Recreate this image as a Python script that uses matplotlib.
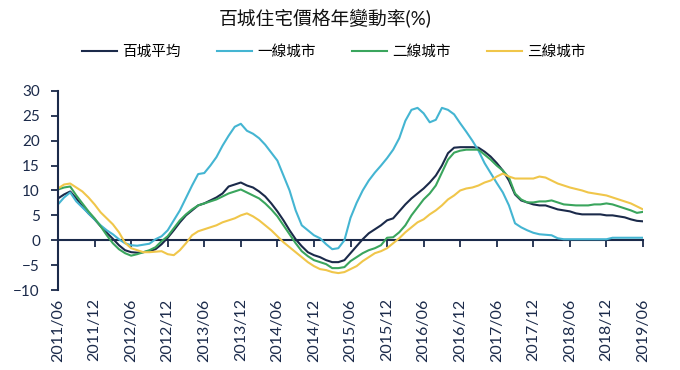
import numpy as np
import matplotlib
matplotlib.use("Agg")
import matplotlib.pyplot as plt

plt.rcParams['font.family'] = ['Lato', 'Noto Sans CJK TC', 'DejaVu Sans']

# 月度資料 2011/06 - 2019/06
avg = [8.4, 9.2, 9.8, 8.4, 6.8, 5.4, 4.2, 2.8, 1.5, 0.3,
       -1.0, -2.0, -2.4, -2.5, -2.4, -2.2, -1.8, -0.8, 0.5, 2.0,
       3.6, 5.0, 6.0, 7.0, 7.4, 8.0, 8.6, 9.4, 10.8, 11.2,
       11.6, 11.0, 10.6, 9.8, 8.8, 7.4, 5.8, 4.0, 2.0, 0.2,
       -1.2, -2.4, -3.0, -3.4, -4.0, -4.4, -4.4, -4.0, -2.6, -1.2,
       0.2, 1.4, 2.2, 3.0, 4.0, 4.4, 5.8, 7.2, 8.4, 9.4,
       10.4, 11.6, 13.0, 15.0, 17.5, 18.6, 18.7, 18.7, 18.7, 18.6,
       17.8, 16.8, 15.5, 14.0, 12.0, 9.2, 8.0, 7.6, 7.2, 7.0,
       7.0, 6.6, 6.2, 6.0, 5.8, 5.4, 5.2, 5.2, 5.2, 5.2,
       5.0, 5.0, 4.8, 4.6, 4.2, 3.9, 3.8]
tier1 = [7.2, 8.6, 9.6, 7.8, 6.6, 5.4, 4.2, 3.0, 2.0, 1.2,
         0.2, -0.6, -1.0, -1.1, -0.9, -0.7, 0.2, 0.8, 2.0, 4.0,
         6.0, 8.5, 11.0, 13.3, 13.5, 15.0, 16.7, 19.0, 21.0, 22.8,
         23.4, 22.0, 21.4, 20.5, 19.2, 17.6, 16.0, 13.0, 10.0, 6.0,
         3.0, 2.0, 1.0, 0.4, -0.8, -1.8, -1.6, 0.0, 4.5, 7.5,
         10.0, 12.0, 13.6, 15.0, 16.5, 18.2, 20.5, 24.0, 26.2, 26.6,
         25.5, 23.7, 24.2, 26.6, 26.2, 25.3, 23.5, 21.8, 20.0, 18.0,
         15.5, 13.5, 11.5, 9.6, 7.0, 3.4, 2.6, 2.0, 1.5, 1.2,
         1.1, 1.0, 0.4, 0.2, 0.2, 0.2, 0.2, 0.2, 0.2, 0.2,
         0.2, 0.5, 0.5, 0.5, 0.5, 0.5, 0.5]
tier2 = [10.2, 10.6, 10.8, 9.0, 7.4, 5.8, 4.4, 2.8, 1.0, -0.6,
         -1.8, -2.6, -3.1, -2.8, -2.4, -2.0, -1.4, -0.2, 0.8, 2.4,
         4.0, 5.2, 6.2, 7.0, 7.4, 7.8, 8.2, 8.8, 9.4, 9.8,
         10.2, 9.6, 9.0, 8.4, 7.4, 6.2, 4.8, 3.0, 1.2, -0.6,
         -2.2, -3.2, -4.0, -4.4, -4.8, -5.6, -5.6, -5.4, -4.2, -3.4,
         -2.6, -2.0, -1.6, -1.0, 0.5, 0.6, 1.6, 3.0, 5.0, 6.6,
         8.2, 9.4, 11.0, 13.6, 16.2, 17.6, 18.0, 18.2, 18.2, 18.2,
         17.2, 16.2, 15.0, 14.0, 12.6, 9.4, 8.2, 7.6, 7.6, 7.8,
         7.8, 8.0, 7.6, 7.2, 7.1, 7.0, 7.0, 7.0, 7.2, 7.2,
         7.4, 7.2, 6.8, 6.4, 6.0, 5.5, 5.7]
tier3 = [10.4, 11.2, 11.4, 10.6, 9.8, 8.6, 7.2, 5.6, 4.4, 3.2,
         1.6, -0.5, -1.6, -2.0, -2.4, -2.4, -2.3, -2.2, -2.8, -3.0,
         -2.0, -0.6, 1.0, 1.8, 2.2, 2.6, 3.0, 3.6, 4.0, 4.4,
         5.0, 5.4, 4.8, 4.0, 3.0, 2.0, 0.8, -0.4, -1.4, -2.4,
         -3.4, -4.4, -5.2, -5.8, -6.0, -6.4, -6.6, -6.4, -5.8, -5.2,
         -4.2, -3.4, -2.6, -2.2, -1.6, -0.6, 0.4, 1.6, 2.6, 3.6,
         4.2, 5.2, 6.0, 7.0, 8.2, 9.0, 10.0, 10.4, 10.6, 11.0,
         11.6, 12.0, 12.8, 13.4, 12.8, 12.4, 12.4, 12.4, 12.4, 12.8,
         12.6, 12.0, 11.4, 11.0, 10.6, 10.3, 10.0, 9.6, 9.4, 9.2,
         9.0, 8.6, 8.2, 7.8, 7.4, 6.8, 6.2]
tick_labels = ["2011/06", "2011/12", "2012/06", "2012/12", "2013/06", "2013/12",
               "2014/06", "2014/12", "2015/06", "2015/12", "2016/06", "2016/12",
               "2017/06", "2017/12", "2018/06", "2018/12", "2019/06"]
names = ["百城平均", "一線城市", "二線城市", "三線城市"]
colors = ["#1b2a4a", "#44b5d2", "#3aa55d", "#f0c64a"]

navy = "#1b2a4a"
x = np.arange(len(avg))

fig = plt.figure(figsize=(6.8, 3.7), dpi=100)
ax = fig.add_axes([0.0853, 0.2162, 0.8603, 0.538])

for y, name, c in zip([avg, tier1, tier2, tier3], names, colors):
    ax.plot(x, y, color=c, lw=1.5, label=name)

ax.set_xlim(0, 96)
ax.set_ylim(-10, 30)
ax.set_yticks(np.arange(-10, 31, 5))

for s in ["top", "right"]:
    ax.spines[s].set_visible(False)
ax.spines["left"].set_color(navy)
ax.spines["left"].set_linewidth(1.5)
ax.spines["bottom"].set_position(("data", 0))
ax.spines["bottom"].set_color(navy)
ax.spines["bottom"].set_linewidth(1.5)
ax.spines["bottom"].set_zorder(1)

ax.set_xticks(x[::6])
ax.tick_params(axis="x", direction="out", length=5, width=1.3, color=navy, labelbottom=False)
ax.tick_params(axis="y", direction="out", length=5, width=1.3, color=navy,
               labelsize=11, labelcolor=navy, pad=8)

# 日期標籤放在圖底
sec = ax.secondary_xaxis(0)
sec.set_xticks(x[::6])
sec.set_xticklabels(tick_labels, rotation=90, fontsize=11.5, color=navy)
sec.tick_params(length=0, pad=6)
sec.spines["bottom"].set_visible(False)

fig.text(0.478, 0.951, "百城住宅價格年變動率(%)", ha="center", va="center",
         fontsize=13.5, color="#111111")
fig.legend(loc="center", bbox_to_anchor=(0.491, 0.859), ncol=4, frameon=False,
           fontsize=10.5, handlelength=2.4, handletextpad=0.35, columnspacing=2.5)

fig.savefig("out.png", dpi=100)
